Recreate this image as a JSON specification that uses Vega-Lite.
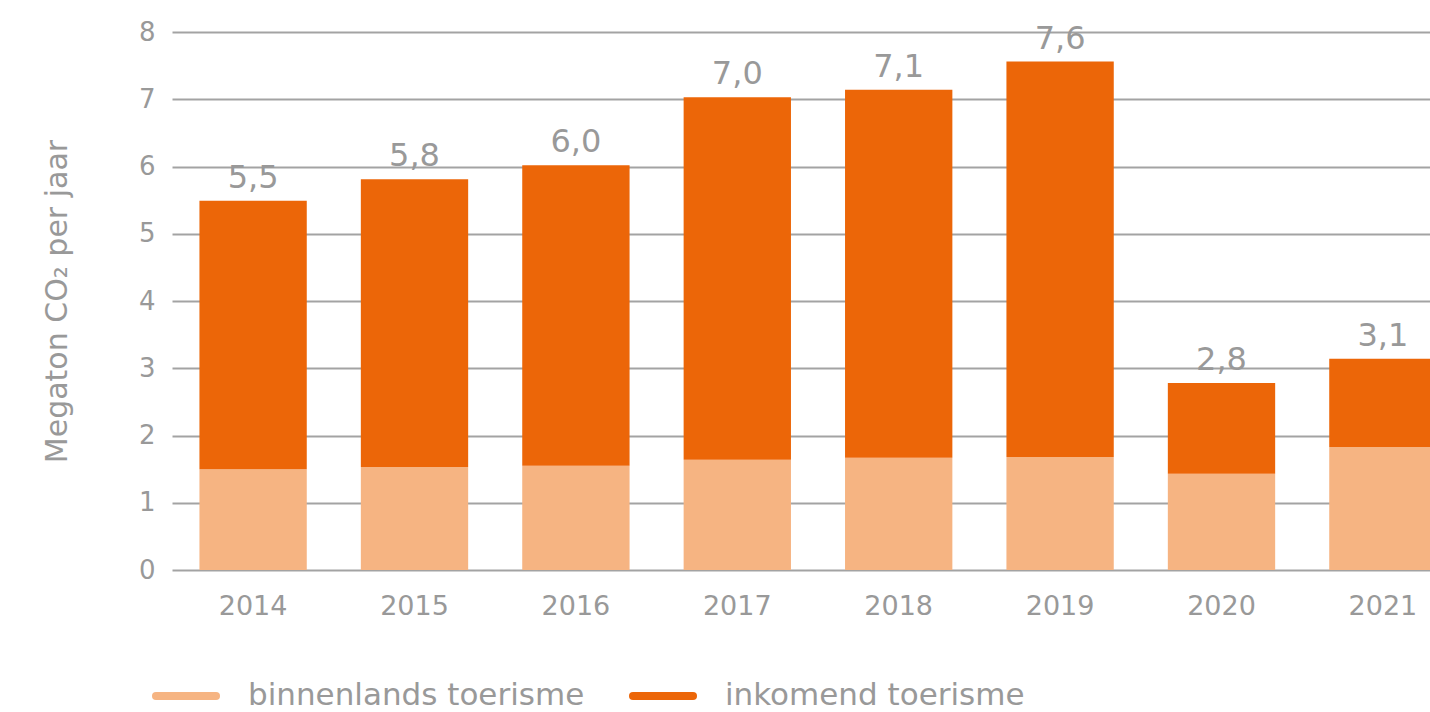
{
  "$schema": "https://vega.github.io/schema/vega-lite/v6.json",
  "width": 1258,
  "height": 538,
  "autosize": {"type": "none"},
  "padding": {"left": 172, "top": 32, "right": 0, "bottom": 142},
  "background": "white",
  "config": {
    "locale": {"number": {"decimal": ",", "thousands": ".", "grouping": [3], "currency": ["€", ""]}},
    "font": "DejaVu Sans",
    "view": {"stroke": null},
    "axis": {"labelColor": "#999999", "titleColor": "#999999", "labelFont": "DejaVu Sans", "titleFont": "DejaVu Sans"},
    "legend": {"labelFont": "DejaVu Sans"}
  },
  "data": {
    "values": [
      {"jaar": "2014", "type": "binnenlands toerisme", "waarde": 1.50},
      {"jaar": "2014", "type": "inkomend toerisme", "waarde": 3.99},
      {"jaar": "2015", "type": "binnenlands toerisme", "waarde": 1.53},
      {"jaar": "2015", "type": "inkomend toerisme", "waarde": 4.28},
      {"jaar": "2016", "type": "binnenlands toerisme", "waarde": 1.55},
      {"jaar": "2016", "type": "inkomend toerisme", "waarde": 4.47},
      {"jaar": "2017", "type": "binnenlands toerisme", "waarde": 1.64},
      {"jaar": "2017", "type": "inkomend toerisme", "waarde": 5.39},
      {"jaar": "2018", "type": "binnenlands toerisme", "waarde": 1.67},
      {"jaar": "2018", "type": "inkomend toerisme", "waarde": 5.47},
      {"jaar": "2019", "type": "binnenlands toerisme", "waarde": 1.68},
      {"jaar": "2019", "type": "inkomend toerisme", "waarde": 5.88},
      {"jaar": "2020", "type": "binnenlands toerisme", "waarde": 1.43},
      {"jaar": "2020", "type": "inkomend toerisme", "waarde": 1.35},
      {"jaar": "2021", "type": "binnenlands toerisme", "waarde": 1.83},
      {"jaar": "2021", "type": "inkomend toerisme", "waarde": 1.31}
    ]
  },
  "encoding": {
    "x": {
      "field": "jaar", "type": "nominal",
      "scale": {"range": [0, 1292], "paddingInner": 0.335, "paddingOuter": 0.17},
      "axis": {"title": null, "labelAngle": 0, "ticks": false, "domain": false, "labelFontSize": 27, "labelPadding": 23, "grid": false}
    }
  },
  "layer": [
    {
      "mark": {"type": "bar", "clip": true},
      "encoding": {
        "y": {
          "field": "waarde", "type": "quantitative", "stack": "zero",
          "scale": {"domain": [0, 8]},
          "axis": {
            "title": "Megaton CO₂ per jaar", "titleFontSize": 30, "titleFontWeight": "normal", "titlePadding": 66,
            "tickCount": 8, "ticks": false, "domain": false, "labelFontSize": 26, "labelPadding": 17,
            "grid": true, "gridColor": "#a3a3a3", "gridWidth": 2
          }
        },
        "color": {
          "field": "type", "type": "nominal",
          "scale": {"domain": ["binnenlands toerisme", "inkomend toerisme"], "range": ["#F6B482", "#EC6608"]},
          "legend": {
            "title": null, "orient": "none", "legendX": -20, "legendY": 630, "direction": "horizontal",
            "symbolType": "stroke", "symbolSize": 3600, "symbolStrokeWidth": 8,
            "labelFontSize": 31, "labelColor": "#999999", "labelOffset": 28, "columnPadding": 32, "labelLimit": 600,
            "encode": {"symbols": {"update": {"stroke": {"scale": "color", "field": "value"}, "fill": {"value": "transparent"}, "strokeWidth": {"value": 8}, "strokeCap": {"value": "round"}}}}
          }
        },
        "order": {"field": "type", "sort": "ascending"}
      }
    },
    {
      "transform": [{"aggregate": [{"op": "sum", "field": "waarde", "as": "totaal"}], "groupby": ["jaar"]}],
      "mark": {"type": "text", "baseline": "alphabetic", "dy": -13, "fontSize": 32, "color": "#999999"},
      "encoding": {
        "y": {"field": "totaal", "type": "quantitative"},
        "text": {"field": "totaal", "type": "quantitative", "format": ".1f"}
      }
    }
  ]
}
